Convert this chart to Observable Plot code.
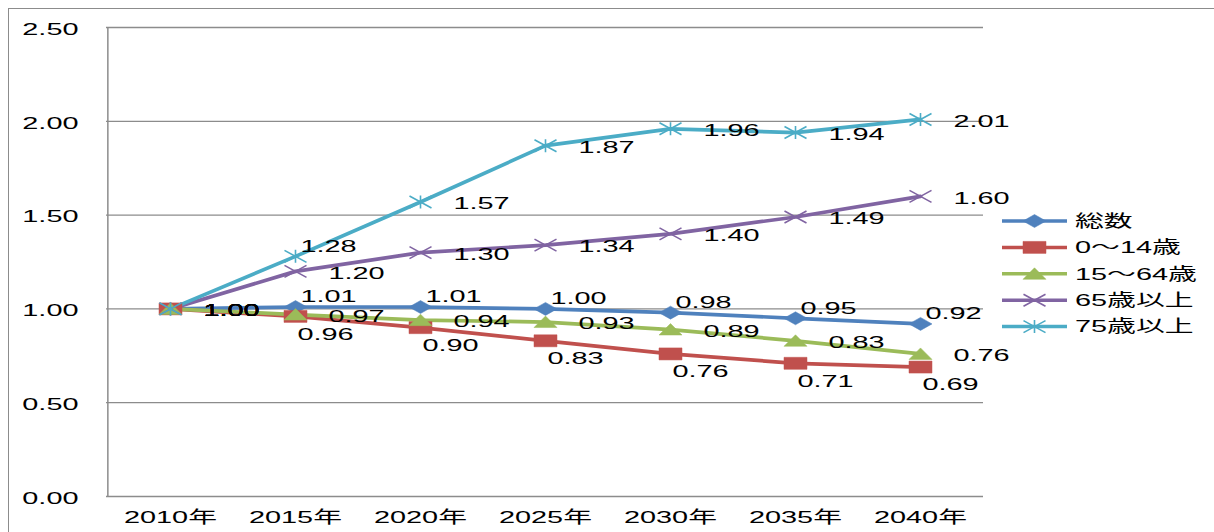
<!DOCTYPE html>
<html><head><meta charset="utf-8">
<script src="https://cdn.jsdelivr.net/npm/d3@7"></script>
<script src="https://cdn.jsdelivr.net/npm/@observablehq/plot@0.6"></script>
<style>
body{margin:0;background:#fff;width:1214px;height:532px;overflow:hidden;position:relative;font-family:"Liberation Sans","Noto Sans CJK JP",sans-serif;}
#frame{position:absolute;left:8px;top:8px;width:1230px;height:540px;border-top:1.5px solid #8c8c8c;border-left:1.5px solid #8c8c8c;}
#chart{position:absolute;left:0;top:0;}
#legend{position:absolute;left:0;top:0;}
</style></head><body>
<div id="frame"></div>
<div id="chart"></div>
<svg id="legend" width="1214" height="532"></svg>
<script>
// ---- data ----
const years = ["2010年", "2015年", "2020年", "2025年", "2030年", "2035年", "2040年"];
const seriesNames = ["総数", "0～14歳", "15～64歳", "65歳以上", "75歳以上"];
const total    = [1.00, 1.01, 1.01, 1.00, 0.98, 0.95, 0.92];
const age0_14  = [1.00, 0.96, 0.90, 0.83, 0.76, 0.71, 0.69];
const age15_64 = [1.00, 0.97, 0.94, 0.93, 0.89, 0.83, 0.76];
const age65    = [1.00, 1.20, 1.30, 1.34, 1.40, 1.49, 1.60];
const age75    = [1.00, 1.28, 1.57, 1.87, 1.96, 1.94, 2.01];
const yTicks   = [0, 0.5, 1.0, 1.5, 2.0, 2.5];

const seriesValues = [total, age0_14, age15_64, age65, age75];
const colors = ["#4F81BD", "#C0504D", "#9BBB59", "#8064A2", "#4BACC6"];

const rows = [];
seriesNames.forEach((s, si) => seriesValues[si].forEach((v, i) => rows.push({series: s, si, year: years[i], yi: i, value: v})));

// ---- stretched marker symbols (the picture is horizontally stretched) ----
const SX = 1.75;
const symbols = [
  {draw(c){ c.moveTo(0,-6.5); c.lineTo(11.5,0); c.lineTo(0,6.5); c.lineTo(-11.5,0); c.closePath(); }},
  {draw(c){ c.moveTo(-11.5,-6); c.lineTo(11.5,-6); c.lineTo(11.5,6); c.lineTo(-11.5,6); c.closePath(); }},
  {draw(c){ c.moveTo(0,-6); c.lineTo(11.5,5.5); c.lineTo(-11.5,5.5); c.closePath(); }},
  {draw(c){ c.moveTo(-11,-6); c.lineTo(11,6); c.moveTo(-11,6); c.lineTo(11,-6); }},
  {draw(c){ c.moveTo(-11,-6); c.lineTo(11,6); c.moveTo(-11,6); c.lineTo(11,-6); c.moveTo(0,-6.5); c.lineTo(0,6.5); }}
];
const filled = [true, true, true, false, false];

// label groups
const isAbove = d => (d.si === 0 && d.yi > 0) || (d.si === 4 && d.yi === 1);
const isBelow = d => d.si === 1 && d.yi > 0;
const isRight = d => !isAbove(d) && !isBelow(d);
const fmt = d => d.value.toFixed(2);

const marks = [
  Plot.ruleY(yTicks, {stroke: "#8c8c8c", strokeWidth: 1.3}),
  Plot.ruleX([years[0]], {x: d => d, dx: -62.65, stroke: "#8c8c8c", strokeWidth: 1.5}),
  Plot.axisY({ticks: yTicks, tickFormat: d => d.toFixed(2), tickSize: 0, tickPadding: 28, dy: 2, label: null, fill: "black"}),
  Plot.axisX({tickSize: 0, tickPadding: 15, label: null, fill: "black"}),
  Plot.line(rows, {x: "year", y: "value", z: "series", stroke: "series", strokeWidth: 3.7, strokeLinejoin: "round"})
];
seriesNames.forEach((s, si) => {
  marks.push(Plot.dot(rows.filter(d => d.si === si), {
    x: "year", y: "value", symbol: symbols[si], r: 6,
    fill: filled[si] ? colors[si] : "none",
    stroke: colors[si], strokeWidth: filled[si] ? 0.5 : 1.6
  }));
});
marks.push(
  Plot.text(rows.filter(isRight), {x: "year", y: "value", text: fmt, textAnchor: "start", dx: 33, dy: 2, fill: "black"}),
  Plot.text(rows.filter(isAbove), {x: "year", y: "value", text: fmt, textAnchor: "middle", dx: 33, dy: -10, fill: "black"}),
  Plot.text(rows.filter(isBelow), {x: "year", y: "value", text: fmt, textAnchor: "middle", dx: 30, dy: 18, fill: "black"})
);

const chart = Plot.plot({
  width: 1214, height: 532,
  marginLeft: 106, marginRight: 231, marginTop: 27, marginBottom: 36,
  x: {type: "point", domain: years, padding: 0.5},
  y: {domain: [0, 2.5]},
  color: {domain: seriesNames, range: colors},
  style: {fontFamily: '"Liberation Sans","Noto Sans CJK JP",sans-serif', fontSize: "16.5px", color: "black", background: "transparent"},
  marks
});

// horizontally stretch every text around its own anchor
chart.querySelectorAll("text").forEach(t => {
  const tr = t.getAttribute("transform") || "";
  t.setAttribute("transform", tr + ` scale(${SX},1)`);
});
document.getElementById("chart").appendChild(chart);

// ---- legend ----
const lg = d3.select("#legend");
seriesNames.forEach((s, i) => {
  const y = 221 + i * 26.4;
  lg.append("line").attr("x1", 1002).attr("x2", 1067).attr("y1", y).attr("y2", y)
    .attr("stroke", colors[i]).attr("stroke-width", 3.5);
  const p = d3.path(); symbols[i].draw(p);
  lg.append("path").attr("d", p.toString()).attr("transform", `translate(1034.5,${y})`)
    .attr("fill", filled[i] ? colors[i] : "none").attr("stroke", colors[i]).attr("stroke-width", filled[i] ? 0.5 : 1.6);
  lg.append("text").attr("transform", `translate(1075,${y}) scale(${SX},1)`).attr("dy", "0.35em")
    .attr("font-size", "16.5px").attr("font-family", '"Liberation Sans","Noto Sans CJK JP",sans-serif')
    .attr("fill", "black").text(s);
});
</script>
</body></html>
